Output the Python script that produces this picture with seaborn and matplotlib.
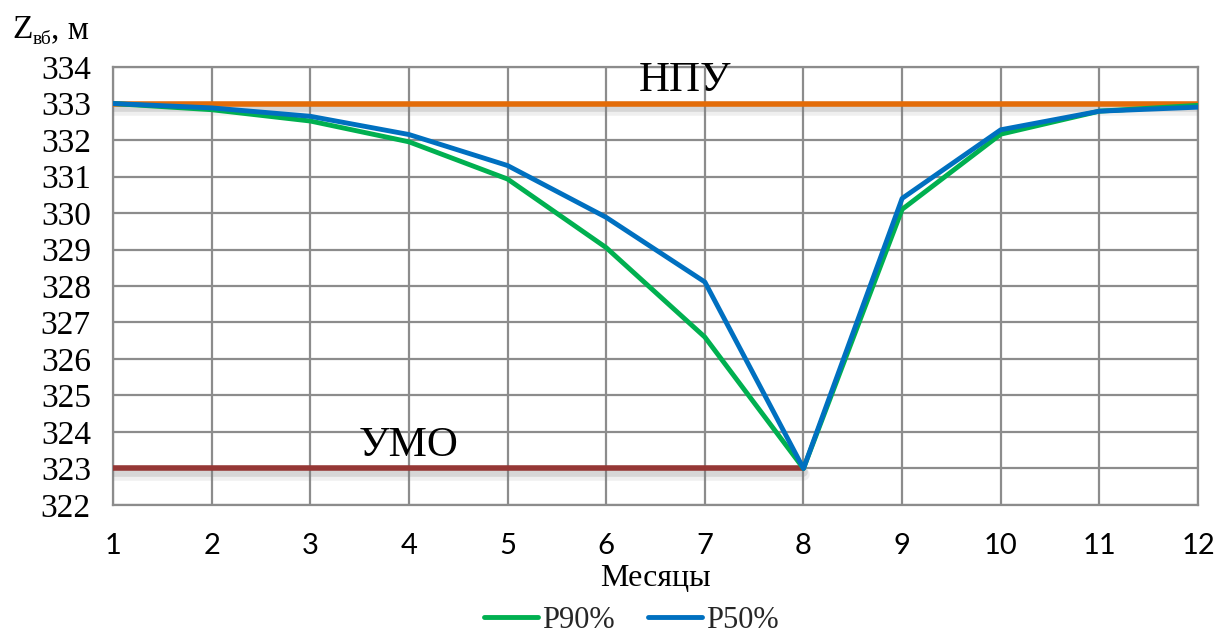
import matplotlib
matplotlib.use("Agg")
import matplotlib.pyplot as plt
import matplotlib.patheffects as pe
import seaborn as sns
import pandas as pd

months = [1, 2, 3, 4, 5, 6, 7, 8, 9, 10, 11, 12]
p90 = [333.0, 332.83, 332.52, 331.95, 330.93, 329.05, 326.6, 323.0, 330.1, 332.16, 332.79, 332.95]
p50 = [333.0, 332.88, 332.65, 332.15, 331.3, 329.88, 328.11, 323.0, 330.4, 332.28, 332.79, 332.9]
npu_months = [1, 12]
npu_level = [333.0, 333.0]
umo_months = [1, 8]
umo_level = [323.0, 323.0]
series_names = ["P90%", "P50%"]
y_ticks = list(range(322, 335))

sns.set_theme(style="white")
serif = ["Liberation Serif", "DejaVu Serif"]

fig = plt.figure(figsize=(12.17, 6.34), dpi=100)
ax = fig.add_axes([0.0929, 0.2035, 0.8915, 0.6908])

df = pd.DataFrame({
    "Месяц": months * 2,
    "Z": p90 + p50,
    "Ряд": [series_names[0]] * 12 + [series_names[1]] * 12,
})
df_npu = pd.DataFrame({"Месяц": npu_months, "Z": npu_level})
df_umo = pd.DataFrame({"Месяц": umo_months, "Z": umo_level})

shadow = [pe.SimpleLineShadow(offset=(0, -2.5), shadow_color="gray", alpha=0.22, linewidth=7),
          pe.SimpleLineShadow(offset=(0, -4), shadow_color="gray", alpha=0.12, linewidth=9),
          pe.Normal()]
sns.lineplot(data=df_npu, x="Месяц", y="Z", ax=ax, color="#E36C09", linewidth=4,
             path_effects=shadow, zorder=3)
sns.lineplot(data=df_umo, x="Месяц", y="Z", ax=ax, color="#953735", linewidth=4,
             path_effects=shadow, zorder=3)
sns.lineplot(data=df, x="Месяц", y="Z", hue="Ряд", ax=ax,
             palette={"P90%": "#00B050", "P50%": "#0070C0"}, linewidth=3.5, zorder=4)

ax.set_xlim(1, 12)
ax.set_ylim(322, 334)
ax.set_xticks(months)
ax.set_yticks(y_ticks)
ax.grid(True, color="#8c8c8c", linewidth=1.6)
ax.set_axisbelow(True)
for s in ax.spines.values():
    s.set_color("#8c8c8c")
    s.set_linewidth(1.6)
ax.tick_params(axis="both", length=0)
ax.tick_params(axis="x", pad=20)
ax.tick_params(axis="y", pad=16)
for lbl in ax.get_xticklabels():
    lbl.set_fontfamily(["Lato", "DejaVu Sans"])
    lbl.set_fontsize(21)
    lbl.set_color("black")
for lbl in ax.get_yticklabels():
    lbl.set_fontfamily(serif)
    lbl.set_fontsize(24)
    lbl.set_color("black")

ax.set_xlabel("Месяцы", fontfamily=serif, fontsize=23, color="black", labelpad=4)
ax.set_ylabel("")

ax.text(6.8, 333.1, "НПУ", fontfamily=serif, fontsize=31, ha="center", va="bottom", color="black")
ax.text(4.0, 323.1, "УМО", fontfamily=serif, fontsize=31, ha="center", va="bottom", color="black")

handles, labels = ax.get_legend_handles_labels()
ax.legend(handles, labels, loc="center", bbox_to_anchor=(0.519, 0.021), bbox_transform=fig.transFigure,
          ncol=2, frameon=False, prop={"family": serif, "size": 22}, handlelength=1.75,
          handletextpad=0.15, columnspacing=1.1, borderpad=0.1)

# Y axis label: Z with subscript "вб"
fig.canvas.draw()
r = fig.canvas.get_renderer()
t1 = fig.text(12 / 1217, 1 - 38 / 634, "Z", fontfamily=serif, fontsize=24, color="black")
bb = t1.get_window_extent(r)
t2 = fig.text(bb.x1 / 1217, 1 - 44 / 634, "вб", fontfamily=serif, fontsize=14, color="black")
bb2 = t2.get_window_extent(r)
fig.text(bb2.x1 / 1217, 1 - 38 / 634, ", м", fontfamily=serif, fontsize=24, color="black")

fig.savefig("out.png", dpi=100)
